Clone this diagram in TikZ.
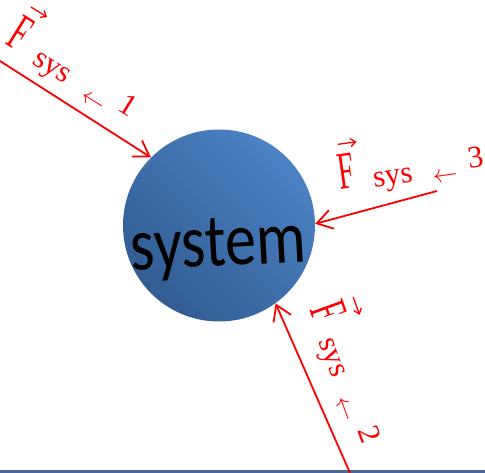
\documentclass[tikz,border=0pt]{standalone}
\usepackage{fontspec}
\newfontfamily\calibri{Carlito}
\newfontfamily\lserif{Liberation Serif}
\usetikzlibrary{arrows.meta}
\definecolor{sysblueL}{RGB}{76,130,196}
\definecolor{sysblueD}{RGB}{50,92,146}
\definecolor{baseblue}{RGB}{74,106,150}
\definecolor{fred}{RGB}{255,0,0}
\tikzset{
  force/.style={draw=fred, line width=1.8pt, -{Straight Barb[length=15pt,width=19pt,line width=1.8pt]}},
  fbig/.style={text=fred, inner sep=0pt, font=\lserif\fontsize{53}{53}\selectfont},
  subtext/.style={text=fred, inner sep=0pt, font=\lserif\fontsize{31}{31}\selectfont},
  subarr/.style={text=fred, inner sep=0pt, font=\fontsize{27}{27}\selectfont},
  vecarrow/.style={draw=fred, line width=1.3pt, -{Straight Barb[length=5pt,width=8pt,line width=1.3pt]}},
}
\newcommand\forcelabel[5]{% x, y, angle, number, name prefix
  \begin{scope}[shift={(#1,#2)}, rotate=#3, transform shape]
    \node[fbig, anchor=base] (#5F) at (-45,4) {\scalebox{0.55}[1]{F}};
    \coordinate (#5va) at (-50,-41);
    \coordinate (#5vb) at (-31,-41);
    \draw[vecarrow] (#5va) -- (#5vb);
    \node[subtext, anchor=base] (#5s) at (0,6.5) {sys};
    \node[subarr] (#5a) at (52,7) {$\leftarrow$};
    \node[subtext, anchor=base] (#5n) at (84.5,1) {#4};
  \end{scope}}
\begin{document}
\begin{tikzpicture}[x=1pt, y=-1pt]
  \useasboundingbox (0,0) rectangle (485,473);
  % bottom rule
  \coordinate (bl) at (0,471.5);
  \coordinate (br) at (485,471.5);
  \draw[baseblue, line width=3pt] (bl) -- (br);
  % system circle
  \node[circle, minimum size=192pt, inner sep=0pt, top color=sysblueL, bottom color=sysblueD, shading angle=-45] (c) at (219,225.5) {};
  \node[inner sep=0pt, anchor=base, rotate=3, xscale=0.83, font=\calibri\fontsize{75}{75}\selectfont] (t) at (219.5,266) {system};
  % force arrows
  \coordinate (s1) at (0,61);
  \coordinate (s3) at (437,191);
  \coordinate (s2) at (350,473);
  \draw[force] (s1) -- (c.135);
  \draw[force] (s3) -- (c.1);
  \draw[force] (s2) -- (c.-54);
  % labels
  \forcelabel{51.7}{68.3}{-32}{1}{la}
  \forcelabel{331.7}{358}{-70}{2}{lb}
  \forcelabel{393}{178}{8}{3}{lc}
\end{tikzpicture}
\end{document}
